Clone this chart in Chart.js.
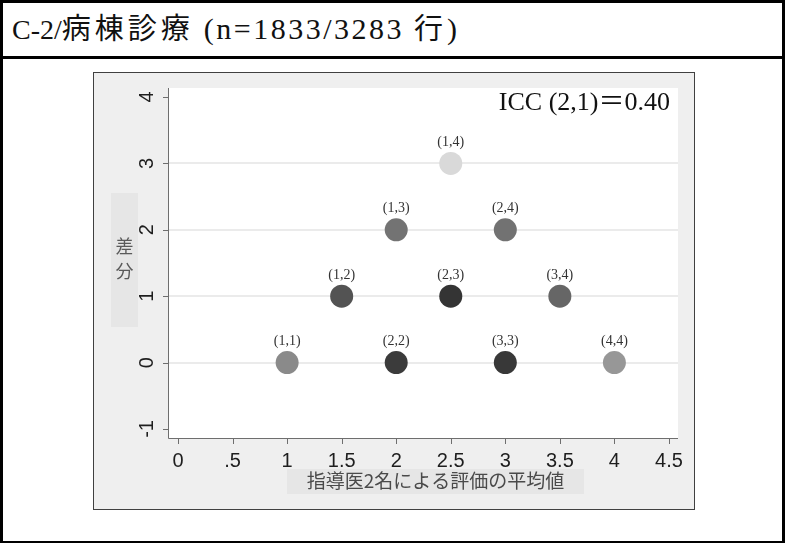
<!DOCTYPE html>
<html>
<head>
<meta charset="utf-8">
<script src="https://cdn.jsdelivr.net/npm/chart.js@4.4.1/dist/chart.umd.min.js"></script>
<style>
  html, body { margin: 0; padding: 0; background: #fff; }
  body { width: 785px; height: 543px; position: relative; overflow: hidden; }
  .rule { position: absolute; background: #000; }
  #title {
    position: absolute; left: 12px; top: 11px; white-space: nowrap;
    font-family: "Liberation Serif", "Noto Sans CJK JP", serif;
    font-size: 28px; line-height: 31px; color: #111;
  }
  #title .cjk { font-family: "Noto Sans CJK JP", sans-serif; font-size: 29px; letter-spacing: 4px; }
  #title .wide { font-size: 30px; letter-spacing: 2.5px; }
  #box {
    position: absolute; left: 93px; top: 72px; width: 600px; height: 436px;
    border: 1px solid #404040; background: #efefef;
  }
  #box canvas { display: block; }
</style>
</head>
<body>
<div class="rule" style="left:0;top:0;width:785px;height:3px"></div>
<div class="rule" style="left:0;top:56px;width:785px;height:3px"></div>
<div class="rule" style="left:0;top:541px;width:785px;height:2px"></div>
<div class="rule" style="left:0;top:0;width:3px;height:543px"></div>
<div class="rule" style="left:782px;top:0;width:3px;height:543px"></div>

<div id="title"><span>C-2/</span><span class="cjk">病棟診療</span><span class="wide"> (n=1833/3283 </span><span class="cjk">行</span><span class="wide">)</span></div>

<div id="box"><canvas id="chart" width="600" height="436"></canvas></div>

<script>
// Rater pairs (score by rater 1, score by rater 2), plotted as mean vs. difference
const pairLabels = ['(1,1)', '(2,2)', '(3,3)', '(4,4)', '(1,2)', '(2,3)', '(3,4)', '(1,3)', '(2,4)', '(1,4)'];
const meanScore  = [1, 2, 3, 4, 1.5, 2.5, 3.5, 2, 3, 2.5];
const diffScore  = [0, 0, 0, 0, 1, 1, 1, 2, 2, 3];

const xTickValues = [0, 0.5, 1, 1.5, 2, 2.5, 3, 3.5, 4, 4.5];
const xTickLabels = ['0', '.5', '1', '1.5', '2', '2.5', '3', '3.5', '4', '4.5'];
const yTickValues = [-1, 0, 1, 2, 3, 4];
const yTickLabels = ['-1', '0', '1', '2', '3', '4'];

const iccText = 'ICC (2,1)＝0.40';
const xTitle = '指導医2名による評価の平均値';
const yTitle = '差分';

// marker darkness follows how crowded each cluster of jittered observations is
const clusterShade = {
  '(1,1)': '#8a8a8a', '(2,2)': '#3b3b3b', '(3,3)': '#383838', '(4,4)': '#979797',
  '(1,2)': '#535353', '(2,3)': '#343434', '(3,4)': '#666666',
  '(1,3)': '#737373', '(2,4)': '#727272', '(1,4)': '#d9d9d9'
};

const points = meanScore.map((m, i) => ({ x: m, y: diffScore[i], label: pairLabels[i] }));

const frame = {
  id: 'frame',
  beforeDraw(chart) {
    const { ctx, chartArea: a } = chart;
    ctx.save();
    ctx.fillStyle = '#efefef';
    ctx.fillRect(0, 0, chart.width, chart.height);
    ctx.fillStyle = '#ffffff';
    ctx.fillRect(a.left, a.top, a.right - a.left, a.bottom - a.top);
    // shaded bands behind the axis titles
    ctx.fillStyle = '#e6e6e6';
    ctx.fillRect(17, 120, 27, 134);
    ctx.fillRect(193, 396, 297, 25);
    ctx.restore();
  },
  afterDatasetsDraw(chart) {
    const { ctx, chartArea: a, scales: { x, y } } = chart;
    ctx.save();
    // axis lines
    ctx.strokeStyle = '#6e6e6e';
    ctx.lineWidth = 1;
    ctx.beginPath();
    ctx.moveTo(a.left + 0.5, a.top);
    ctx.lineTo(a.left + 0.5, a.bottom + 0.5);
    ctx.lineTo(a.right, a.bottom + 0.5);
    ctx.stroke();
    // tick marks
    ctx.beginPath();
    yTickValues.forEach(v => {
      const py = Math.round(y.getPixelForValue(v)) + 0.5;
      ctx.moveTo(a.left - 5, py); ctx.lineTo(a.left, py);
    });
    xTickValues.forEach(v => {
      const px = Math.round(x.getPixelForValue(v)) + 0.5;
      ctx.moveTo(px, a.bottom); ctx.lineTo(px, a.bottom + 6);
    });
    ctx.stroke();
    // x tick labels
    ctx.fillStyle = '#1e1e1e';
    ctx.font = '20px "Liberation Sans", Arial, sans-serif';
    ctx.textAlign = 'center';
    ctx.textBaseline = 'alphabetic';
    xTickValues.forEach((v, i) => ctx.fillText(xTickLabels[i], x.getPixelForValue(v), a.bottom + 29));
    // y tick labels, rotated
    yTickValues.forEach((v, i) => {
      ctx.save();
      ctx.translate(a.left - 15, y.getPixelForValue(v));
      ctx.rotate(-Math.PI / 2);
      ctx.fillText(yTickLabels[i], 0, 0);
      ctx.restore();
    });
    // axis titles
    ctx.fillStyle = '#4a4a4a';
    ctx.font = '19px "Noto Sans CJK JP", sans-serif';
    ctx.textBaseline = 'middle';
    ctx.fillText(xTitle, 341.5, 408);
    ctx.fillStyle = '#5a5a5a';
    ctx.font = '18px "Noto Sans CJK JP", sans-serif';
    [...yTitle].forEach((ch, i) => ctx.fillText(ch, 30.5, 173 + i * 25));
    // pair labels above each cluster
    ctx.fillStyle = '#333';
    ctx.font = '14px "Liberation Serif", serif';
    const meta = chart.getDatasetMeta(0);
    meta.data.forEach((el, i) => ctx.fillText(points[i].label, el.x, el.y - 21));
    // agreement statistic
    ctx.fillStyle = '#111';
    ctx.font = '26px "Liberation Serif", "Noto Sans CJK JP", serif';
    ctx.textAlign = 'right';
    ctx.textBaseline = 'alphabetic';
    ctx.fillText(iccText, 576, 37);
    ctx.restore();
  }
};

new Chart(document.getElementById('chart'), {
  type: 'scatter',
  data: {
    datasets: [{
      data: points,
      pointRadius: 11.5,
      pointHoverRadius: 11.5,
      borderWidth: 0,
      backgroundColor: points.map(p => clusterShade[p.label])
    }]
  },
  options: {
    responsive: false,
    animation: false,
    events: [],
    layout: { padding: { top: 15, right: 16, left: 0, bottom: 0 } },
    plugins: { legend: { display: false }, tooltip: { enabled: false }, title: { display: false } },
    scales: {
      x: {
        type: 'linear', min: -0.092, max: 4.583,
        afterBuildTicks: s => { s.ticks = xTickValues.map(v => ({ value: v })); },
        afterFit: s => { s.height = 71; },
        ticks: { display: false },
        grid: { display: false },
        border: { display: false }
      },
      y: {
        type: 'linear', min: -1.136, max: 4.136,
        afterBuildTicks: s => { s.ticks = yTickValues.map(v => ({ value: v })); },
        afterFit: s => { s.width = 74; },
        ticks: { display: false },
        grid: {
          drawTicks: false,
          lineWidth: 2,
          color: c => (c.tick && c.tick.value >= 0 && c.tick.value <= 3) ? '#ebebeb' : 'rgba(0,0,0,0)'
        },
        border: { display: false }
      }
    }
  },
  plugins: [frame]
});
</script>
</body>
</html>
